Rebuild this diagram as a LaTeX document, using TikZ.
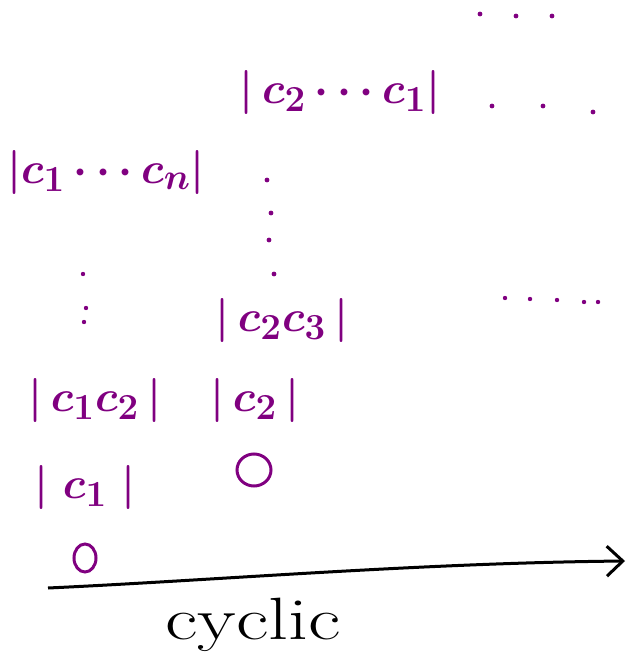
\documentclass[tikz,border=0pt]{standalone}
\usetikzlibrary{arrows.meta}
\definecolor{hpurple}{RGB}{128,0,128}
\newcommand{\bigtxt}[1]{\scalebox{1.77}{\Huge #1}}
\tikzset{
  x=1pt, y=-1pt,
  term/.style={text=hpurple, inner sep=0pt, font=\boldmath},
  dotmark/.style={fill=hpurple, draw=none},
  axis/.style={line width=3pt, -{Straight Barb[length=16pt,width=30pt,line width=3pt]}},
  axislabel/.style={inner sep=0pt}
}
\begin{document}
\begin{tikzpicture}
\useasboundingbox (0,0) rectangle (629,666);
% terms
\node[term] (c2c1) at (340,92) {\bigtxt{$|\,c_2\cdots c_1|$}};
\node[term] (c1cn) at (106,172) {\bigtxt{$|c_1\cdots c_n|$}};
\node[term] (c2c3) at (282,320) {\bigtxt{$|\,c_2c_3\,|$}};
\node[term] (c1c2) at (95,400) {\bigtxt{$|\,c_1c_2\,|$}};
\node[term] (c2) at (255,400) {\bigtxt{$|\,c_2\,|$}};
\node[term] (c1) at (85,487) {\bigtxt{$|\;c_1\;|$}};
% zeros
\draw[hpurple, line width=3pt] (254,470) ellipse (17pt and 16pt);
\draw[hpurple, line width=3pt] (85,558) ellipse (11pt and 14pt);
% dots
\foreach \p in {(480,14),(516,16),(552,16)} \fill[dotmark] \p circle (2.4pt);
\foreach \p in {(492,106),(543,106),(593,112)} \fill[dotmark] \p circle (2.4pt);
\foreach \p in {(505,298),(530,299),(557,300),(584,302),(598,302)} \fill[dotmark] \p circle (2.2pt);
\foreach \p in {(267,180),(271,213),(269,240),(274,274)} \fill[dotmark] \p circle (2.4pt);
\foreach \p in {(83,274),(86,308),(84,322)} \fill[dotmark] \p circle (2.2pt);
% axis
\coordinate (a0) at (48,588);
\coordinate (a1) at (625,561);
\draw[axis] (a0) .. controls (220,580) and (420,563) .. (a1);
\node[axislabel] (lbl) at (253,625) {\scalebox{3.2}[2.4]{\Huge cyclic}};
\end{tikzpicture}
\end{document}
